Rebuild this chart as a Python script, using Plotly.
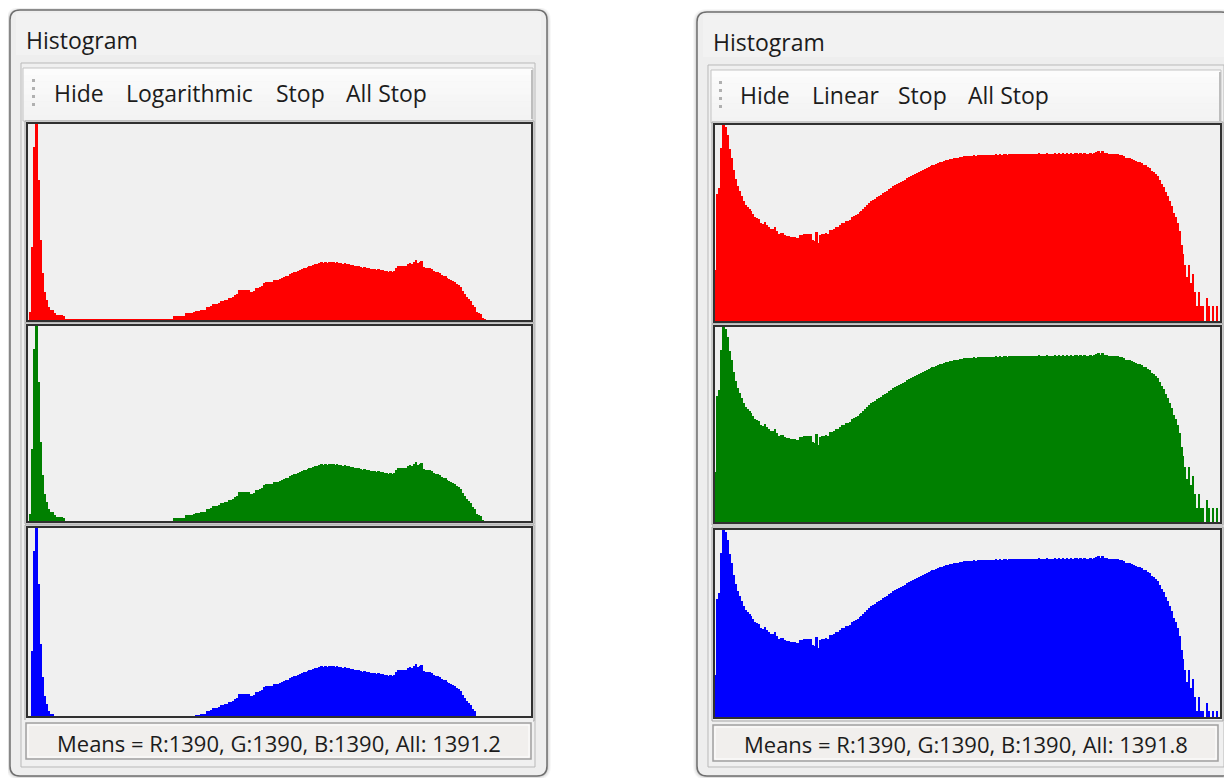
import plotly.graph_objects as go

# page body has an 8px margin, so the figure is drawn 8px smaller and shifted
OFF = 8
W, H = 1232 - OFF, 778 - OFF

# ---------------- data (per-bin counts, 256 bins) ----------------
# Left window (linear display)
lin_counts = [
    0, 400, 3650, 8650, 9800, 7000, 4000, 2350, 1400, 1000, 650, 500, 500, 350, 260, 250, 240, 230, 220, 20,
    14, 12, 11, 10, 9, 9, 8, 8, 7, 7, 6, 6, 6, 5, 5, 5, 5, 5, 5, 5,
    5, 5, 5, 5, 5, 5, 5, 6, 6, 6, 6, 7, 7, 7, 8, 8, 8, 9, 9, 10,
    10, 11, 11, 12, 12, 13, 14, 14, 15, 16, 17, 18, 19, 20,
    200, 200, 210, 200, 210, 220,
    350, 350, 360, 370,
    420, 430, 430, 440,
    500, 510, 520,
    640, 660, 680,
    780, 800, 820, 850,
    930, 960, 990, 1000,
    1080, 1110, 1150,
    1230, 1280,
    1480, 1500, 1520, 1500, 1510, 1480,
    1420, 1400, 1450,
    1580, 1620, 1650, 1700,
    1850, 1880, 1900, 1880, 1920,
    2000, 1980, 2020, 2050,
    2100, 2150, 2180, 2200,
    2280, 2350, 2380, 2420, 2450,
    2500, 2560, 2580, 2620, 2650,
    2700, 2720, 2760, 2790, 2820,
    2850, 2880, 2860, 2900, 2870, 2920, 2880, 2900, 2860, 2890, 2870,
    2850, 2820, 2860, 2800, 2820,
    2760, 2740, 2720, 2700, 2680,
    2650, 2620, 2640, 2600, 2580,
    2560, 2540, 2560, 2520, 2540,
    2500, 2480, 2450, 2460,
    2420, 2450, 2400, 2460,
    2600, 2680, 2700, 2680, 2720, 2700,
    2800, 2850, 2800, 2900, 2980, 2850, 2900, 2950,
    2650, 2600, 2620, 2580, 2550,
    2450, 2400, 2380, 2350,
    2250, 2200, 2180,
    2100, 2050, 1980,
    1950, 1900,
    1820, 1750, 1650,
    1450, 1300,
    1150, 1050, 950,
    750, 650,
    400, 350, 300,
    120, 50,
    0, 0, 0, 0, 0, 0, 0, 0, 0, 0, 0, 0, 0, 0, 0, 0, 0, 0, 0, 0, 0, 0, 0,
]

# Right window (logarithmic display)
log_counts = [
    11, 400, 520, 3470, 10000, 8900, 6300, 3300, 2150, 1200,
    790, 575, 450, 363, 285, 235, 209, 190, 178, 155,
    130, 126, 120, 100, 97, 105, 91, 81, 76, 76,
    83, 69, 61, 64, 63, 58, 55, 55, 52, 52,
    51, 50, 50, 58, 58, 60, 60, 60, 60, 44,
    42, 66, 40, 58, 60, 60, 62, 61, 73, 73,
    76, 81, 81, 91, 98, 100, 110, 112, 115, 132,
    141, 145, 156, 165, 174, 191, 209, 229, 251, 275,
    288, 316, 345, 363, 380, 417, 437, 457, 490, 525,
    575, 603, 631, 660, 692, 724, 759, 810, 855, 912,
    955, 1000, 1067, 1117, 1169, 1225, 1282, 1330, 1393, 1445,
    1500, 1556, 1614, 1675, 1738, 1786, 1837, 1905, 1941, 1995,
    2050, 2089, 2128, 2168, 2208, 2249, 2291, 2312, 2333, 2355,
    2380, 2400, 2360, 2420, 2440, 2400, 2450, 2470, 2430, 2480,
    2500, 2460, 2510, 2490, 2530, 2500, 2540, 2520, 2480, 2550,
    2530, 2560, 2540, 2580, 2550, 2600, 2570, 2590, 2560, 2610,
    2580, 2620, 2600, 2560, 2630, 2600, 2610, 2580, 2640, 2600,
    2620, 2590, 2650, 2610, 2630, 2600, 2640, 2620, 2650, 2610,
    2630, 2600, 2640, 2660, 2620, 2650, 2600, 2640, 2620, 2580,
    2640, 2620, 2700, 2760, 2900, 2740, 2880, 2720, 2650, 2620,
    2600, 2580, 2560, 2520, 2510, 2500, 2480, 2290, 2150, 2100,
    2080, 2050, 1920, 1880, 1780, 1740, 1700, 1560, 1510, 1380,
    1320, 1150, 1100, 1000, 912, 759, 631, 550, 437, 363,
    275, 219, 158, 132, 100, 69, 36, 23, 14, 8,
    14, 6, 9, 4, 2, 4, 2, 2, 1, 3,
    2, 1, 2, 1, 2, 1,
]

channel_names = ["R", "G", "B"]
channel_colors = ["#ff0000", "#008000", "#0000ff"]

left_title = "Histogram"
right_title = "Histogram"
left_buttons = ["Hide", "Logarithmic", "Stop", "All Stop"]
right_buttons = ["Hide", "Linear", "Stop", "All Stop"]
left_status = "Means = R:1390, G:1390, B:1390, All: 1391.2"
right_status = "Means = R:1390, G:1390, B:1390, All: 1391.8"

fig = go.Figure()

# ---------------- geometry helpers (screen pixels -> paper) ----------------
def X(px):
    return (px - OFF) / W

def Y(py):
    return 1 - (py - OFF) / H

def rrect_path(x0, y0, x1, y1, r):
    p = [
        f"M {X(x0 + r)},{Y(y0)}",
        f"L {X(x1 - r)},{Y(y0)}",
        f"Q {X(x1)},{Y(y0)} {X(x1)},{Y(y0 + r)}",
        f"L {X(x1)},{Y(y1 - r)}",
        f"Q {X(x1)},{Y(y1)} {X(x1 - r)},{Y(y1)}",
        f"L {X(x0 + r)},{Y(y1)}",
        f"Q {X(x0)},{Y(y1)} {X(x0)},{Y(y1 - r)}",
        f"L {X(x0)},{Y(y0 + r)}",
        f"Q {X(x0)},{Y(y0)} {X(x0 + r)},{Y(y0)}",
        "Z",
    ]
    return " ".join(p)

shapes = []
annotations = []

def rect(x0, y0, x1, y1, fill=None, line=None, lw=1, layer="below"):
    shapes.append(dict(
        type="rect", xref="paper", yref="paper",
        x0=X(x0), x1=X(x1), y0=Y(y1), y1=Y(y0),
        fillcolor=fill if fill else "rgba(0,0,0,0)",
        line=dict(color=line if line else "rgba(0,0,0,0)", width=lw if line else 0),
        layer=layer,
    ))

FONTFAM = "Segoe UI, Open Sans, Noto Sans, sans-serif"

def text(x, y, s, size=23, anchor="left", color="#1c1c1c"):
    annotations.append(dict(
        x=X(x), y=Y(y), xref="paper", yref="paper", text=s, showarrow=False,
        xanchor=anchor, yanchor="middle",
        font=dict(family=FONTFAM, size=size, color=color),
    ))

windows = [
    dict(outer=(10, 10, 547, 776), client=(21, 63, 535, 767), toolbar=(23, 68, 533, 121),
         title_xy=(24, 40), buttons=left_buttons, button_x=[52, 124, 274, 344], button_y=93,
         grip_x=32, grip_y=79, status=(26, 723, 531, 759), status_text=left_status, status_y=743,
         title=left_title, px=(28, 531), panels=[(124, 320), (326, 521), (528, 716)],
         frames=[(26, 122, 533, 322), (26, 324, 533, 523), (26, 526, 533, 720)]),
    dict(outer=(697, 12, 1231, 776), client=(708, 65, 1224, 767), toolbar=(711, 70, 1221, 123),
         title_xy=(711, 42), buttons=right_buttons, button_x=[738, 810, 896, 966], button_y=95,
         grip_x=719, grip_y=81, status=(713, 725, 1218, 761), status_text=right_status, status_y=744,
         title=right_title, px=(715, 1220), panels=[(125, 321), (327, 522), (530, 717)],
         frames=[(713, 123, 1222, 323), (713, 325, 1222, 524), (713, 528, 1222, 720)]),
]

for w in windows:
    ox0, oy0, ox1, oy1 = w["outer"]
    for k, a in ((4, 0.03), (3, 0.04), (2, 0.05), (1, 0.07)):
        shapes.append(dict(type="path", xref="paper", yref="paper",
                           path=rrect_path(ox0 - k, oy0 - k + 1, ox1 + k, oy1 + k, 10 + k),
                           fillcolor=f"rgba(0,0,0,{a})", line=dict(width=0), layer="below"))
    shapes.append(dict(type="path", xref="paper", yref="paper",
                       path=rrect_path(ox0, oy0, ox1, oy1, 10),
                       fillcolor="#eeeeee", line=dict(color="#6f6f6f", width=1.5), layer="below"))
    # light top part of the frame (title area)
    rect(ox0 + 6, oy0 + 3, ox1 - 6, oy0 + 45, fill="#f2f2f2")
    cx0, cy0, cx1, cy1 = w["client"]
    rect(cx0, cy0, cx1, cy1, fill="#f0f0f0", line="#b9b9b9")
    tx0, ty0, tx1, ty1 = w["toolbar"]
    # toolbar: white to light-grey gradient
    n = 8
    for k in range(n):
        g = int(252 - k * 9 / (n - 1))
        rect(tx0, ty0 + (ty1 - ty0) * k / n, tx1, ty0 + (ty1 - ty0) * (k + 1) / n + 0.5,
             fill=f"rgb({g},{g},{g})")
    rect(tx0, ty0, tx1, ty1, fill=None, line="#c3c3c3")
    rect(tx1 - 2, ty0 + 2, tx1, ty1 - 2, fill="#bdbdbd")
    for k in range(4):
        rect(w["grip_x"], w["grip_y"] + 8 * k, w["grip_x"] + 3, w["grip_y"] + 8 * k + 3, fill="#b0b0b0")
    for (fx0, fy0, fx1, fy1) in w["frames"]:
        rect(fx0 - 1, fy0 - 1, fx1 + 1, fy1 + 1, fill="#f0f0f0", line="#a5a5a5")
    sx0, sy0, sx1, sy1 = w["status"]
    rect(sx0 - 2, sy0 - 3, sx1 + 2, sy1 + 3, fill="#f0f0f0", layer="above")
    rect(sx0, sy0, sx1, sy1, fill="#f1efed", line="#a0a0a0", lw=1.5, layer="above")
    rect(sx0 + 2, sy0 + 2, sx1 - 2, sy1 - 2, fill=None, line="#ffffff", layer="above")
    text(w["title_xy"][0], w["title_xy"][1], w["title"], 23)
    for bx, lab in zip(w["button_x"], w["buttons"]):
        text(bx, w["button_y"], lab, 23)
    text((sx0 + sx1) / 2, w["status_y"], w["status_text"], 22, anchor="center")

layout = dict(
    width=W, height=H, margin=dict(l=0, r=0, t=0, b=0),
    paper_bgcolor="#ffffff", plot_bgcolor="#f0f0f0",
    bargap=0, showlegend=False, shapes=shapes, annotations=annotations,
)

bins = list(range(len(lin_counts)))
ax = 0
for wi, w in enumerate(windows):
    data = lin_counts if wi == 0 else log_counts
    full_h = w["panels"][0][1] - w["panels"][0][0]
    for ci, (name, color) in enumerate(zip(channel_names, channel_colors)):
        ax += 1
        top, bot = w["panels"][ci]
        h = bot - top
        if wi == 0:
            vmax = max(lin_counts)
            yr = [vmax * (1 - h / full_h), vmax]
            ytype = "linear"
        else:
            dec = 4.0
            yr = [dec * (1 - h / full_h), dec]
            ytype = "log"
        xa = "xaxis" if ax == 1 else f"xaxis{ax}"
        ya = "yaxis" if ax == 1 else f"yaxis{ax}"
        tag = "" if ax == 1 else str(ax)
        layout[xa] = dict(domain=[X(w["px"][0]), X(w["px"][1])], range=[-0.5, len(bins) - 0.5],
                          showticklabels=False, ticks="", showgrid=False, zeroline=False,
                          showline=True, mirror=True, linecolor="#303030", linewidth=2,
                          anchor="y" + tag, fixedrange=True)
        layout[ya] = dict(domain=[Y(bot), Y(top)], range=yr, type=ytype,
                          showticklabels=False, ticks="", showgrid=False, zeroline=False,
                          showline=True, mirror=True, linecolor="#303030", linewidth=2,
                          anchor="x" + tag, fixedrange=True)
        fig.add_trace(go.Bar(x=bins, y=data, name=name, marker=dict(color=color, line=dict(width=0)),
                             width=1.0, xaxis="x" + tag, yaxis="y" + tag, hoverinfo="skip"))

fig.update_layout(**layout)
fig.write_html("out.html")
